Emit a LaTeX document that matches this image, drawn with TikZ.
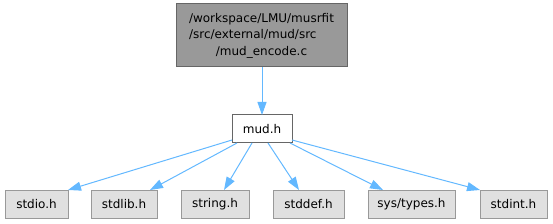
\documentclass[tikz,border=0pt]{standalone}
\usepackage{fontspec}
\setmainfont{DejaVu Sans}
\usetikzlibrary{arrows.meta,calc}
\definecolor{edgeblue}{HTML}{63B8FF}
\definecolor{topfill}{HTML}{999999}
\definecolor{darkborder}{HTML}{666666}
\definecolor{lightfill}{HTML}{E0E0E0}
\definecolor{lightborder}{HTML}{999999}
\begin{document}
\begin{tikzpicture}[x=1pt,y=-1pt,
  every node/.style={font=\fontsize{12}{16.5}\selectfont, inner sep=0pt, outer sep=0pt},
  topbox/.style={draw=darkborder, fill=topfill, line width=1pt, minimum width=171pt, minimum height=63pt},
  midbox/.style={draw=darkborder, fill=white, line width=1pt, minimum width=60pt, minimum height=28pt},
  leafbox/.style={draw=lightborder, fill=lightfill, line width=1pt, minimum height=28pt},
  dep/.style={draw=edgeblue, line width=1pt, -{Triangle[length=13pt,width=9pt]}}]
\useasboundingbox (0,0) rectangle (553,224);
\node[topbox] (top) at (261.5,35.5) {\begin{tabular}{@{}l@{}}/workspace/LMU/musrfit\\/src/external/mud/src\\\multicolumn{1}{@{}c@{}}{/mud\_encode.c}\end{tabular}};
\node[midbox] (mud) at (262,129) {mud.h};
\node[leafbox, minimum width=63pt] (stdio) at (36.5,204) {stdio.h};
\node[leafbox, minimum width=66pt] (stdlib) at (124,204) {stdlib.h};
\node[leafbox, minimum width=68pt] (string) at (215,204) {string.h};
\node[leafbox, minimum width=71pt] (stddef) at (308.5,204) {stddef.h};
\node[leafbox, minimum width=87pt] (systypes) at (411.5,204) {sys/types.h};
\node[leafbox, minimum width=67pt] (stdint) at (513.5,204) {stdint.h};
\draw[dep] (top.south -| mud.north) -- (mud.north);
\draw[dep] ($(mud.south west)+(0,-3)$) -- (stdio.north east);
\draw[dep] ($(mud.south west)+(5,0)$) -- ($(stdlib.north)+(26,0)$);
\draw[dep] ($(mud.south)+(-10,0)$) -- ($(string.north)+(9,0)$);
\draw[dep] ($(mud.south)+(6,0)$) -- ($(stddef.north)+(-9.5,0)$);
\draw[dep] ($(mud.south east)+(-2,0)$) -- ($(systypes.north)+(-28.5,0)$);
\draw[dep] ($(mud.south east)+(0,-3)$) -- (stdint.north west);
\end{tikzpicture}
\end{document}
